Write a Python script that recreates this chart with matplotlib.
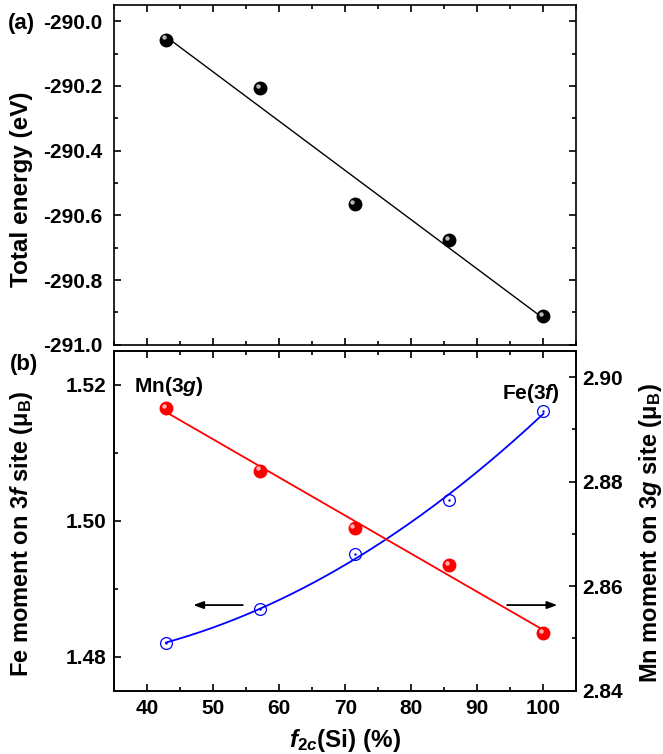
import numpy as np
import matplotlib
matplotlib.use("Agg")
from matplotlib import pyplot as plt
from matplotlib import transforms
from matplotlib.ticker import MultipleLocator

plt.rcParams['font.family'] = ['Liberation Sans', 'DejaVu Sans']
plt.rcParams['font.weight'] = 'bold'
plt.rcParams['mathtext.fontset'] = 'custom'
plt.rcParams['mathtext.rm'] = 'Liberation Sans:bold'
plt.rcParams['mathtext.bf'] = 'Liberation Sans:bold'
plt.rcParams['mathtext.it'] = 'Liberation Sans:italic:bold'

# Si fraction on the 2c site (%)
f2c = [42.86, 57.14, 71.43, 85.71, 100.0]
# total energy (eV)
energy = [-290.057, -290.207, -290.565, -290.676, -290.911]
# Fe moment on 3f site (muB)
fe_moment = [1.4820, 1.4870, 1.4951, 1.5030, 1.5161]
# Mn moment on 3g site (muB)
mn_moment = [2.8941, 2.8821, 2.8711, 2.8640, 2.8510]

x = np.array(f2c)

fig = plt.figure(figsize=(6.63, 7.54), dpi=100)
ax_e = fig.add_axes([0.1719, 0.5428, 0.6976, 0.4506])
ax_fe = fig.add_axes([0.1719, 0.0840, 0.6976, 0.4505])
ax_mn = ax_fe.twinx()

TICK = 15
LABEL = 17.5


def sphere(ax, xs, ys, color, hl, ms=9):
    ax.plot(xs, ys, 'o', color=color, ms=ms, mec=color, zorder=4)
    off = transforms.offset_copy(ax.transData, fig=fig, x=-1.6, y=1.6, units='points')
    ax.plot(xs, ys, 'o', color=hl, ms=3.2, mew=0, alpha=0.85, transform=off, zorder=5)


def style(ax, **kw):
    ax.tick_params(which='both', direction='in', width=1.2, labelsize=TICK, **kw)
    ax.tick_params(which='major', length=4.8)
    ax.tick_params(which='minor', length=3)
    for s in ax.spines.values():
        s.set_linewidth(1.2)


# (a) total energy
fit_e = np.polyfit(x, energy, 1)
ax_e.plot(x[[0, -1]], np.polyval(fit_e, x[[0, -1]]), color='black', lw=1.0, zorder=3)
sphere(ax_e, x, energy, 'black', '#d8d8d8')
ax_e.set_xlim(35, 105)
ax_e.set_ylim(-291.0, -289.95)
ax_e.xaxis.set_major_locator(MultipleLocator(10))
ax_e.xaxis.set_minor_locator(MultipleLocator(5))
ax_e.yaxis.set_major_locator(MultipleLocator(0.2))
ax_e.yaxis.set_minor_locator(MultipleLocator(0.1))
ax_e.yaxis.set_major_formatter(plt.FuncFormatter(lambda v, p: f"{v:.1f}"))
style(ax_e, top=True, right=True, labelbottom=False)
ax_e.tick_params(axis='y', pad=8)
ax_e.set_ylabel("Total energy (eV)", fontsize=LABEL, fontweight='bold')
ax_e.yaxis.set_label_coords(-0.175, 0.458)

# (b) site moments
xx = np.linspace(x[0], x[-1], 200)
fit_fe = np.polyfit(x, fe_moment, 2)
ax_fe.plot(xx, np.polyval(fit_fe, xx), color='#0000ff', lw=1.3, zorder=3)
ax_fe.plot(x, fe_moment, 'o', mfc='none', mec='#0000ff', ms=8.5, mew=0.9, zorder=4)
ax_fe.plot(x, fe_moment, '.', color='#0000ff', ms=1.5, zorder=4)

fit_mn = np.polyfit(x, mn_moment, 1)
ax_mn.plot(x[[0, -1]], np.polyval(fit_mn, x[[0, -1]]), color='#ff0000', lw=1.3, zorder=3)
sphere(ax_mn, x, mn_moment, '#ff0000', '#ffd0d0')

ax_fe.set_xlim(35, 105)
ax_fe.set_ylim(1.475, 1.525)
ax_mn.set_ylim(2.84, 2.905)
ax_fe.xaxis.set_major_locator(MultipleLocator(10))
ax_fe.xaxis.set_minor_locator(MultipleLocator(5))
ax_fe.yaxis.set_major_locator(MultipleLocator(0.02))
ax_fe.yaxis.set_minor_locator(MultipleLocator(0.01))
ax_mn.yaxis.set_major_locator(MultipleLocator(0.02))
ax_mn.yaxis.set_minor_locator(MultipleLocator(0.01))
ax_fe.yaxis.set_major_formatter(plt.FuncFormatter(lambda v, p: f"{v:.2f}"))
ax_mn.yaxis.set_major_formatter(plt.FuncFormatter(lambda v, p: f"{v:.2f}"))
ax_fe.xaxis.set_major_formatter(plt.FuncFormatter(lambda v, p: f"{v:.0f}"))
style(ax_fe, top=True, right=False)
style(ax_mn)
ax_fe.tick_params(axis='y', pad=5.5)
ax_fe.tick_params(axis='x', pad=6)
ax_mn.tick_params(axis='y', pad=4.5)

ax_fe.set_xlabel("$f_{2c}$(Si) (%)", fontsize=LABEL, fontweight='bold')
ax_fe.xaxis.set_label_coords(0.5, -0.108)
ax_fe.set_ylabel("Fe moment on 3$f$ site (μ$_{\\rm B}$)", fontsize=17, fontweight='bold')
ax_fe.yaxis.set_label_coords(-0.171, 0.463)
ax_mn.set_ylabel("Mn moment on 3$g$ site (μ$_{\\rm B}$)", fontsize=17, fontweight='bold')
ax_mn.yaxis.set_label_coords(1.131, 0.463)

ax_fe.text(38.1, 1.5189, "Mn($\\mathit{3g}$)", fontsize=TICK, fontweight='bold', va='baseline')
ax_fe.text(102.5, 1.5180, "Fe($\\mathit{3f}$)", fontsize=TICK, fontweight='bold', va='baseline', ha='right')

# arrows pointing to each series' axis
arrow_y = 1.4876
left_arrow = (54.5, 47.0)
right_arrow = (94.5, 102.1)
for x0, x1 in (left_arrow, right_arrow):
    ax_fe.annotate("", xy=(x1, arrow_y), xytext=(x0, arrow_y),
                   arrowprops=dict(arrowstyle='-|>,head_length=0.6,head_width=0.22',
                                   color='black', lw=1.3, shrinkA=0, shrinkB=0))

fig.text(8 / 663, 1 - 29 / 754, "(a)", fontsize=16, fontweight='bold', va='baseline')
fig.text(10 / 663, 1 - 370 / 754, "(b)", fontsize=16, fontweight='bold', va='baseline')

fig.savefig("out.png", dpi=100)
